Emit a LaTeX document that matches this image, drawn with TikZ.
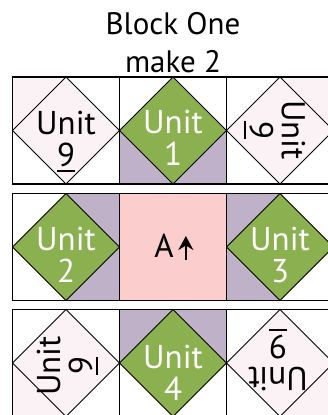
\documentclass[tikz,border=0pt]{standalone}
\usepackage{fontspec}
\setmainfont{PT Sans}
\usetikzlibrary{arrows.meta}

\definecolor{unitgreen}{HTML}{8BB04F}
\definecolor{unitpurple}{HTML}{BFB2C8}
\definecolor{centerpink}{HTML}{FCCDCD}
\definecolor{palepink}{HTML}{FAF2F4}

\newcommand\undernum[1]{\setbox0\hbox{#1}\rlap{\vrule height -4pt depth 6pt width \wd0}#1}

\begin{document}
\begin{tikzpicture}[x=1pt,y=-1pt,
 frame/.style={line width=1.6pt},
 seam/.style={line width=0.8pt},
 lbl/.style={font=\fontsize{33}{32}\selectfont, align=center, inner sep=0pt},
 wlbl/.style={lbl, text=white},
 uparrow/.style={line width=2pt, -{Stealth[length=14pt,width=15pt]}},
]
\useasboundingbox (0,0) rectangle (328,415);
\clip (0,0) rectangle (328,415);

\node[font=\fontsize{31}{38}\selectfont, align=center, inner sep=0pt] (title) at (173,43) {Block One\\make 2};

% row 1
\begin{scope}[shift={(12.5,77)}]
\fill[palepink] (0,0) -- (53.5,0) -- (107,53.5) -- (53.5,107) -- (0,53.5) -- cycle;
\draw[seam] (53.5,0) -- (107,53.5) -- (53.5,107) -- (0,53.5) -- cycle;
\end{scope}
\begin{scope}[shift={(119.5,77)}]
\fill[unitpurple] (0,53.5) rectangle (107,107);
\filldraw[seam, fill=unitgreen] (53.5,0) -- (107,53.5) -- (53.5,107) -- (0,53.5) -- cycle;
\end{scope}
\begin{scope}[shift={(226.5,77)}]
\fill[palepink] (107,0) -- (107,53.5) -- (53.5,107) -- (0,53.5) -- (53.5,0) -- cycle;
\draw[seam] (53.5,0) -- (107,53.5) -- (53.5,107) -- (0,53.5) -- cycle;
\end{scope}

% row 2
\begin{scope}[shift={(12.5,193.5)}]
\fill[unitpurple] (53.5,0) rectangle (107,107);
\filldraw[seam, fill=unitgreen] (53.5,0) -- (107,53.5) -- (53.5,107) -- (0,53.5) -- cycle;
\end{scope}
\begin{scope}[shift={(119.5,193.5)}]
\fill[centerpink] (0,0) rectangle (107,107);
\end{scope}
\begin{scope}[shift={(226.5,193.5)}]
\fill[unitpurple] (0,0) rectangle (53.5,107);
\filldraw[seam, fill=unitgreen] (53.5,0) -- (107,53.5) -- (53.5,107) -- (0,53.5) -- cycle;
\end{scope}

% row 3
\begin{scope}[shift={(12.5,309.5)}]
\fill[palepink] (0,107) -- (0,53.5) -- (53.5,0) -- (107,53.5) -- (53.5,107) -- cycle;
\draw[seam] (53.5,0) -- (107,53.5) -- (53.5,107) -- (0,53.5) -- cycle;
\end{scope}
\begin{scope}[shift={(119.5,309.5)}]
\fill[unitpurple] (0,0) rectangle (107,53.5);
\filldraw[seam, fill=unitgreen] (53.5,0) -- (107,53.5) -- (53.5,107) -- (0,53.5) -- cycle;
\end{scope}
\begin{scope}[shift={(226.5,309.5)}]
\fill[palepink] (107,107) -- (53.5,107) -- (0,53.5) -- (53.5,0) -- (107,53.5) -- cycle;
\draw[seam] (53.5,0) -- (107,53.5) -- (53.5,107) -- (0,53.5) -- cycle;
\end{scope}

% frames
\foreach \top in {77,193.5,309.5} {
 \draw[frame] (12.5,\top) rectangle (333.5,\top+107);
 \draw[frame] (119.5,\top) -- ++(0,107);
 \draw[frame] (226.5,\top) -- ++(0,107);
}

% labels
\node[lbl] (ninetl) at (66,141.5) {Unit\\\undernum{9}};
\node[wlbl] (unitone) at (173,138) {Unit\\1};
\node[lbl, rotate=-90] (ninetr) at (274.5,130) {Unit\\\undernum{9}};
\node[wlbl] (unittwo) at (66,255) {Unit\\2};
\node[lbl, anchor=base] (blocka) at (164,257) {A};
\draw[uparrow] ([xshift=12pt,yshift=-3pt]blocka.base east) -- ([xshift=12pt,yshift=21pt]blocka.base east);
\node[wlbl] (unitthree) at (280,255) {Unit\\3};
\node[lbl, rotate=90] (ninebl) at (67.5,366) {Unit\\\undernum{9}};
\node[wlbl] (unitfour) at (173,373) {Unit\\4};
\node[lbl, rotate=180] (ninebr) at (278,360) {Unit\\\undernum{9}};
\end{tikzpicture}
\end{document}
